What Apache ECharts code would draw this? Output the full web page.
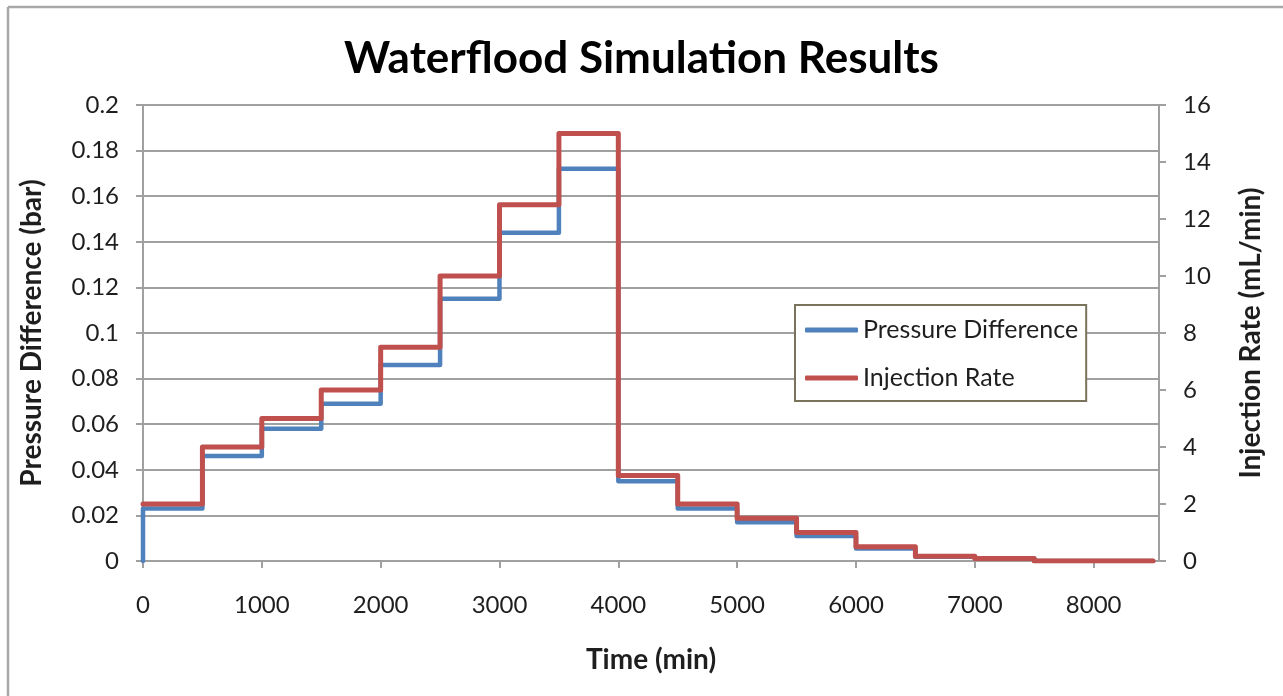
<!DOCTYPE html>
<html>
<head>
<meta charset="utf-8">
<title>Waterflood Simulation Results</title>
<script src="https://cdn.jsdelivr.net/npm/echarts@6/dist/echarts.min.js"></script>
<style>
  html, body { margin: 0; padding: 0; background: #ffffff; }
  #chart { width: 1283px; height: 696px; }
</style>
</head>
<body>
<div id="chart"></div>
<script>
// Start time (min) of each injection stage; the last stage runs to endTime.
const stageStarts = [0, 500, 1000, 1500, 2000, 2500, 3000, 3500, 4000, 4500, 5000, 5500, 6000, 6500, 7000, 7500];
const endTime = 8500;

// Measured pressure difference (bar) during each stage.
const pressureDiff = [0.023, 0.046, 0.058, 0.069, 0.086, 0.115, 0.144, 0.172, 0.035, 0.023, 0.017, 0.011, 0.0055, 0.0019, 0.001, 0];
// Pressure before injection starts.
const pressureInitial = 0;

// Injection rate (mL/min) for each stage.
const injectionRate = [2, 4, 5, 6, 7.5, 10, 12.5, 15, 3, 2, 1.5, 1, 0.5, 0.17, 0.09, 0];

// Axis ticks.
const timeTicks = { min: 0, max: 8550, interval: 1000 };
const pressureTicks = { min: 0, max: 0.2, interval: 0.02 };
const rateTicks = { min: 0, max: 16, interval: 2 };

// Turn piecewise-constant stages into a staircase of [x, y] points.
function staircase(starts, values, end, initial) {
  const pts = [];
  if (initial !== undefined) pts.push([starts[0], initial]);
  for (let i = 0; i < starts.length; i++) {
    const stop = i + 1 < starts.length ? starts[i + 1] : end;
    pts.push([starts[i], values[i]]);
    pts.push([stop, values[i]]);
  }
  return pts;
}

const FONT = 'Lato, "Open Sans", sans-serif';
const GRID_COLOR = '#a0a0a0';
const TEXT_COLOR = '#1e1e1e';

const chart = echarts.init(document.getElementById('chart'), null, { renderer: 'canvas' });

chart.setOption({
  backgroundColor: '#ffffff',
  animation: false,
  textStyle: { fontFamily: FONT },
  title: {
    text: 'Waterflood Simulation Results',
    left: 'center',
    top: 32,
    textStyle: { fontFamily: FONT, fontWeight: 'bold', fontSize: 44, color: '#000000' }
  },
  graphic: [
    { type: 'line', shape: { x1: 8, y1: 7, x2: 1283, y2: 7 }, style: { stroke: '#a8a8a8', lineWidth: 2.5 } },
    { type: 'line', shape: { x1: 8, y1: 7, x2: 8, y2: 696 }, style: { stroke: '#a8a8a8', lineWidth: 2.5 } }
  ],
  grid: { left: 143, right: 124, top: 105, bottom: 135, containLabel: false },
  legend: {
    orient: 'vertical',
    left: 795,
    top: 305,
    padding: [11, 8, 9, 10],
    itemGap: 20,
    itemWidth: 53,
    itemHeight: 5,
    icon: 'roundRect',
    borderColor: '#7a735c',
    borderWidth: 2,
    backgroundColor: '#ffffff',
    textStyle: { fontFamily: FONT, fontSize: 25, color: TEXT_COLOR, lineHeight: 28 },
    data: ['Pressure Difference', 'Injection Rate']
  },
  xAxis: {
    type: 'value',
    min: timeTicks.min,
    max: timeTicks.max,
    interval: timeTicks.interval,
    name: 'Time (min)',
    nameLocation: 'middle',
    nameGap: 85,
    nameTextStyle: { fontFamily: FONT, fontWeight: 'bold', fontSize: 28, color: TEXT_COLOR },
    axisLine: { show: true, lineStyle: { color: GRID_COLOR, width: 2 } },
    axisTick: { show: true, inside: false, length: 7, lineStyle: { color: GRID_COLOR, width: 2 } },
    axisLabel: {
      margin: 32, fontSize: 24, color: TEXT_COLOR, fontFamily: FONT, showMaxLabel: false,
      formatter: v => String(v)
    },
    splitLine: { show: false }
  },
  yAxis: [
    {
      type: 'value',
      position: 'left',
      min: pressureTicks.min,
      max: pressureTicks.max,
      interval: pressureTicks.interval,
      name: 'Pressure Difference (bar)',
      nameLocation: 'middle',
      nameGap: 97,
      nameTextStyle: { fontFamily: FONT, fontWeight: 'bold', fontSize: 28, color: TEXT_COLOR },
      axisLine: { show: true, lineStyle: { color: GRID_COLOR, width: 2 } },
      axisTick: { show: true, inside: false, length: 7, lineStyle: { color: GRID_COLOR, width: 2 } },
      axisLabel: {
        margin: 24, fontSize: 24, color: TEXT_COLOR, fontFamily: FONT,
        formatter: v => String(parseFloat(v.toFixed(4)))
      },
      splitLine: { show: true, lineStyle: { color: GRID_COLOR, width: 2 } }
    },
    {
      type: 'value',
      position: 'right',
      min: rateTicks.min,
      max: rateTicks.max,
      interval: rateTicks.interval,
      name: 'Injection Rate (mL/min)',
      nameLocation: 'middle',
      nameGap: 78,
      nameTextStyle: { fontFamily: FONT, fontWeight: 'bold', fontSize: 28, color: TEXT_COLOR },
      axisLine: { show: true, lineStyle: { color: GRID_COLOR, width: 2 } },
      axisTick: { show: true, inside: false, length: 7, lineStyle: { color: GRID_COLOR, width: 2 } },
      axisLabel: { margin: 24, fontSize: 24, color: TEXT_COLOR, fontFamily: FONT },
      splitLine: { show: false }
    }
  ],
  series: [
    {
      name: 'Pressure Difference',
      type: 'line',
      yAxisIndex: 0,
      symbol: 'none',
      color: '#4f81bd',
      lineStyle: { width: 4.5, color: '#4f81bd', cap: 'round', join: 'round' },
      data: staircase(stageStarts, pressureDiff, endTime, pressureInitial)
    },
    {
      name: 'Injection Rate',
      type: 'line',
      yAxisIndex: 1,
      symbol: 'none',
      color: '#c0504d',
      lineStyle: { width: 5, color: '#c0504d', cap: 'round', join: 'round' },
      data: staircase(stageStarts, injectionRate, endTime)
    }
  ]
});
</script>
</body>
</html>
